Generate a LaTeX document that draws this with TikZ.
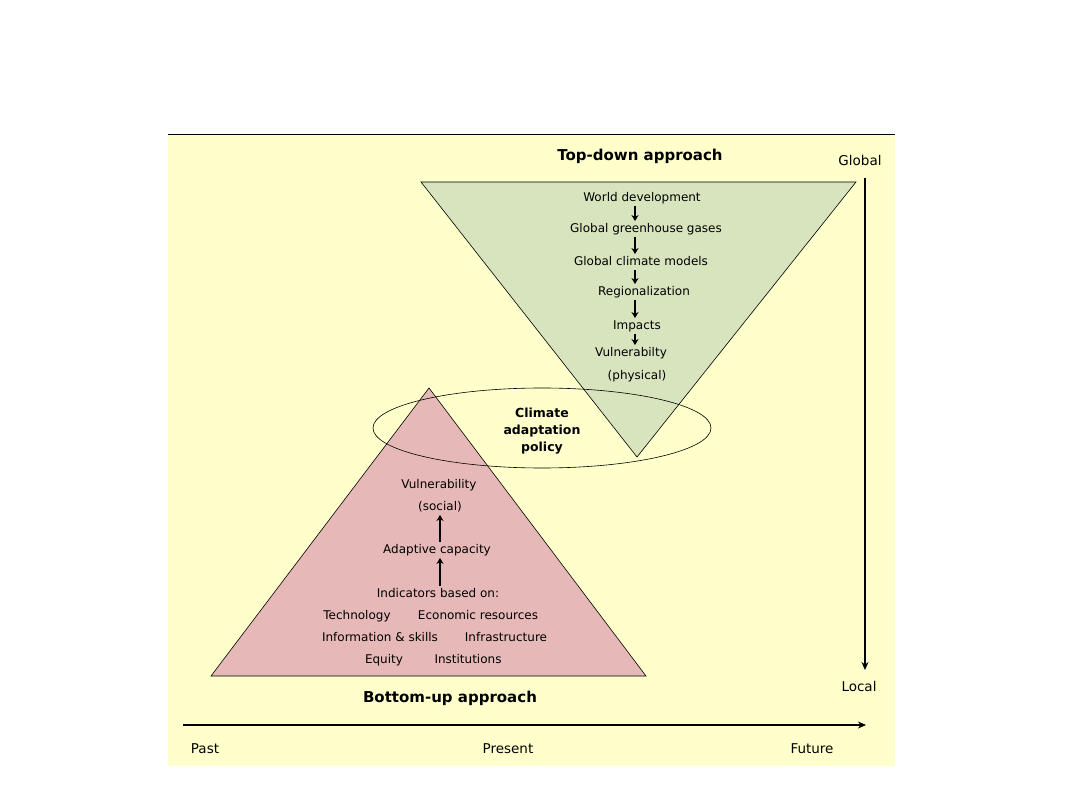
\documentclass[tikz,border=0pt]{standalone}
\usepackage{fontspec}
\setmainfont{DejaVu Sans}
\usetikzlibrary{arrows.meta}
\definecolor{bgyellow}{HTML}{FFFFCC}
\definecolor{topgreen}{HTML}{D7E4BD}
\definecolor{botpink}{HTML}{E6B9B8}
\tikzset{
  lbl/.style={font=\fontsize{12}{13}\selectfont, inner sep=1pt, text height=9pt, text depth=2.5pt},
  ttl/.style={font=\bfseries\fontsize{15}{17}\selectfont, inner sep=1pt},
  axlbl/.style={font=\fontsize{13.5}{15}\selectfont, inner sep=1pt, text height=10pt, text depth=3pt},
  step arrow/.style={-{Stealth[length=6pt,width=7pt]}, line width=2pt, shorten <=1pt, shorten >=1pt},
  axis arrow/.style={-{Stealth[length=8pt,width=7pt]}, line width=2pt},
}
\begin{document}
\begin{tikzpicture}[x=1pt,y=-1pt]
\useasboundingbox (0,0) rectangle (1080,810);
\fill[white] (0,0) rectangle (1080,810);
% background panel
\fill[bgyellow] (168,134) rectangle (895,766);
\draw[line width=0.8pt] (168,134) -- (895,134);
% triangles
\draw[fill=topgreen, line width=0.6pt] (421,182) -- (856,182) -- (637,457) -- cycle;
\draw[fill=botpink, line width=0.6pt] (429,388) -- (646,676) -- (211,676) -- cycle;
% ellipse
\draw[line width=0.6pt] (542,428) ellipse [x radius=169, y radius=40];
% titles
\node[ttl] (td) at (640,156) {Top-down approach};
\node[ttl] (bu) at (450,698) {Bottom-up approach};
% vertical axis
\node[axlbl] (global) at (860,162) {Global};
\node[axlbl] (local) at (859,688) {Local};
\coordinate (vtop) at (865,178);
\coordinate (vbot) at (865,670);
\draw[axis arrow] (vtop) -- (vbot);
% horizontal axis
\coordinate (hl) at (183,725);
\coordinate (hr) at (866,725);
\draw[axis arrow] (hl) -- (hr);
\node[axlbl] (past) at (205,750) {Past};
\node[axlbl] (present) at (508,750) {Present};
\node[axlbl] (future) at (812,750) {Future};
% top-down chain
\node[lbl] (g1) at (642,198) {World development};
\node[lbl] (g2) at (646,229) {Global greenhouse gases};
\node[lbl] (g3) at (641,262) {Global climate models};
\node[lbl] (g4) at (644,292) {Regionalization};
\node[lbl] (g5) at (637,326) {Impacts};
\node[lbl] (g6) at (631,353) {Vulnerabilty};
\node[lbl] (g7) at (637,376) {(physical)};
\draw[step arrow] (g1.south -| 635,0) -- (g2.north -| 635,0);
\draw[step arrow] (g2.south -| 635,0) -- (g3.north -| 635,0);
\draw[step arrow] (g3.south -| 635,0) -- (g4.north -| 635,0);
\draw[step arrow] (g4.south -| 635,0) -- (g5.north -| 635,0);
\draw[step arrow] (g5.south -| 635,0) -- (g6.north -| 635,0);
% ellipse text
\node[align=center, inner sep=1pt, font=\bfseries\fontsize{12.5}{17}\selectfont] (cap) at (542,431) {Climate\\adaptation\\policy};
% bottom-up chain
\node[lbl] (p1) at (439,485) {Vulnerability};
\node[lbl] (p2) at (440,507) {(social)};
\node[lbl] (p3) at (437,550) {Adaptive capacity};
\node[lbl] (p4) at (438,594) {Indicators based on:};
\draw[step arrow] (p3.north -| 440,0) -- (p2.south -| 440,0);
\draw[step arrow] (p4.north -| 440,0) -- (p3.south -| 440,0);
\node[lbl] (i1) at (357,616) {Technology};
\node[lbl] (i2) at (478,616) {Economic resources};
\node[lbl] (i3) at (380,638) {Information \& skills};
\node[lbl] (i4) at (506,638) {Infrastructure};
\node[lbl] (i5) at (384,660) {Equity};
\node[lbl] (i6) at (468,660) {Institutions};
\end{tikzpicture}
\end{document}
